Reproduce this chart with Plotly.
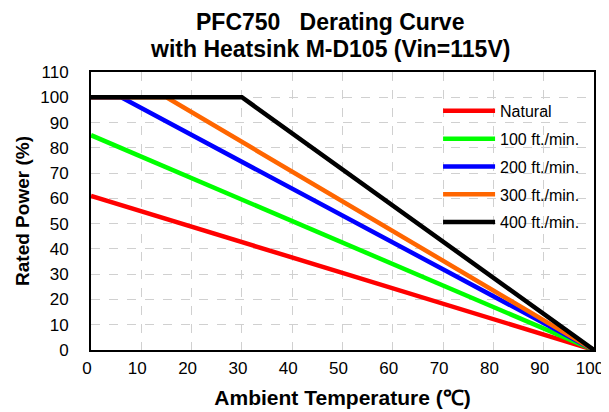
import plotly.graph_objects as go

series_names = ["Natural", "100 ft./min.", "200 ft./min.", "300 ft./min.", "400 ft./min."]
series_colors = ["#ff0000", "#00ff00", "#0000ff", "#ff6600", "#000000"]
x_natural = [0, 100]
y_natural = [61, 0]
x_100 = [0, 100]
y_100 = [85, 0]
x_200 = [0, 6, 100]
y_200 = [100, 100, 0]
x_300 = [0, 15, 100]
y_300 = [100, 100, 0]
x_400 = [0, 30, 100]
y_400 = [100, 100, 0]
x_ticks = list(range(0, 101, 10))
y_ticks = list(range(0, 111, 10))
title_lines = ["PFC750\u00a0\u00a0\u00a0Derating Curve", "with Heatsink M-D105 (Vin=115V)"]

xs = [x_natural, x_100, x_200, x_300, x_400]
ys = [y_natural, y_100, y_200, y_300, y_400]

fig = go.Figure()
for i, (n, c, x, y) in enumerate(zip(series_names, series_colors, xs, ys)):
    fig.add_trace(go.Scatter(x=x, y=y, mode="lines", name=n, legendgroup=str(i),
                             line=dict(color=c, width=4.5)))

font_family = "Liberation Sans, Arial, sans-serif"
# page body has an 8px margin: figure is sized/placed to compensate
fig.update_layout(
    width=601, height=404,
    margin=dict(l=83, r=15, t=64, b=62),
    paper_bgcolor="white", plot_bgcolor="white",
    font=dict(family=font_family, color="black", size=17),
    legend=dict(x=0.69, y=0.921, xanchor="left", yanchor="top", itemwidth=52,
                bgcolor="rgba(0,0,0,0)", font=dict(size=16, family=font_family),
                traceorder="grouped", tracegroupgap=4),
    showlegend=True,
)
for k, line in enumerate(title_lines):
    fig.add_annotation(text="<b>%s</b>" % line, xref="paper", yref="paper",
                       x=0.475, y=1 + (50 - 27 * k) / 278.0, xanchor="center", yanchor="middle",
                       showarrow=False, font=dict(size=23, family=font_family))
fig.update_xaxes(range=[0, 100], tickvals=x_ticks, showgrid=True, gridcolor="#d0d0d0",
                 griddash="dash", gridwidth=1, showline=True, linecolor="black", linewidth=2,
                 mirror=True, zeroline=False, ticks="", ticklen=0, automargin=False,
                 ticklabelshift=-4, ticklabelstandoff=2, ticklabeloverflow="allow",
                 title=dict(text="<b>Ambient Temperature (℃)</b>", font=dict(size=21), standoff=13),
                 tickfont=dict(size=17))
fig.update_yaxes(range=[0, 110], tickvals=y_ticks, showgrid=True, gridcolor="#d0d0d0",
                 griddash="dash", gridwidth=1, showline=True, linecolor="black", linewidth=2,
                 mirror=True, zeroline=False, ticks="", automargin=False,
                 ticklabelstandoff=17,
                 title=dict(text="<b>Rated Power (%)</b>", font=dict(size=19), standoff=6),
                 tickfont=dict(size=17))
fig.write_html("out.html")
